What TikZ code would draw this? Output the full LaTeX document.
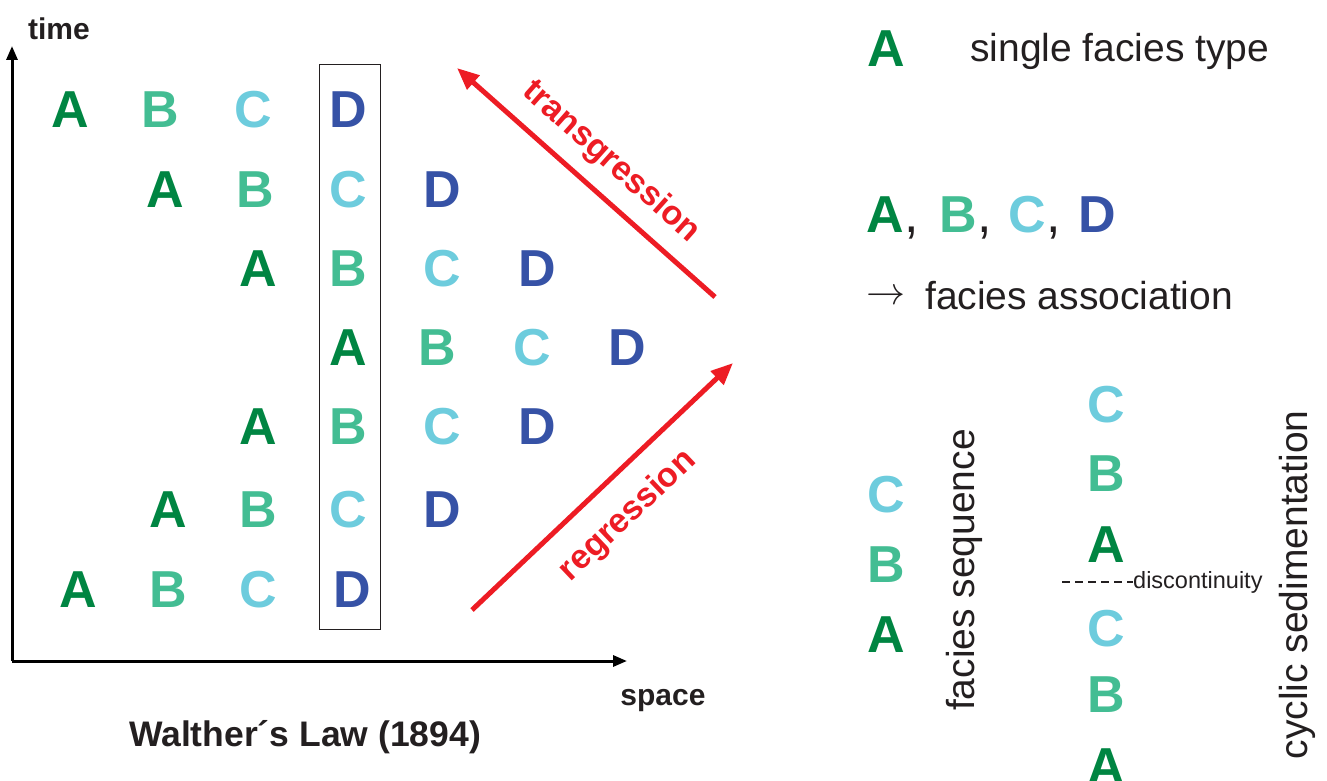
\documentclass[tikz,border=0pt]{standalone}
\usepackage{fontspec}
\setmainfont{Liberation Sans}
\usetikzlibrary{arrows.meta}
\definecolor{cA}{RGB}{0,133,66}
\definecolor{cB}{RGB}{67,189,147}
\definecolor{cC}{RGB}{109,204,221}
\definecolor{cD}{RGB}{54,82,166}
\definecolor{cR}{RGB}{237,28,36}
\definecolor{tx}{RGB}{35,31,32}
\newcommand{\lfont}{\fontsize{52}{52}\selectfont\bfseries}
\tikzset{
  lt/.style={font=\lfont, anchor=base, inner sep=0pt},
  la/.style={lt, text=cA}, lb/.style={lt, text=cB}, lc/.style={lt, text=cC}, ld/.style={lt, text=cD},
  axis/.style={line width=3pt, -{Triangle[length=14pt,width=11pt]}},
  redarrow/.style={cR, line width=5pt, -{Triangle[length=22pt,width=18pt]}},
  redlab/.style={text=cR, font=\fontsize{34}{34}\selectfont\bfseries, inner sep=0pt},
  blab/.style={text=tx, font=\fontsize{30}{30}\selectfont\bfseries, inner sep=0pt},
  legtext/.style={text=tx, font=\fontsize{39}{39}\selectfont, inner sep=0pt, anchor=base west},
  rottext/.style={text=tx, font=\fontsize{39}{39}\selectfont, rotate=90, inner sep=0pt},
  comma/.style={text=tx, font=\fontsize{52}{52}\selectfont, anchor=base, inner sep=0pt},
}
\begin{document}
\begin{tikzpicture}[x=1pt,y=-1pt]
\useasboundingbox (0,0) rectangle (1327,781);
% axes
\coordinate (o) at (12,661);
\coordinate (ty) at (12,46);
\coordinate (sx) at (627,661);
\draw[axis] (o) -- (ty);
\draw[axis] (o) -- (sx);
\node[blab] (time) at (59,29) {time};
\node[blab] (space) at (663,701) {space};
\node[blab, font=\fontsize{35.5}{35.5}\selectfont\bfseries] (title) at (305,737) {Walther´s Law (1894)};
% box
\node[draw=tx, line width=1pt, minimum width=61pt, minimum height=564pt, inner sep=0pt] (box) at (349.5,347) {};
% row 1
\node[la] (a1) at (70,128) {A};
\node[lb] (b1) at (160,128) {B};
\node[lc] (c1) at (253,128) {C};
\node[ld] (d1) at (348,128) {D};
% row 2
\node[la] (a2) at (165,207) {A};
\node[lb] (b2) at (255,207) {B};
\node[lc] (c2) at (348,207) {C};
\node[ld] (d2) at (442,207) {D};
% row 3
\node[la] (a3) at (258,286) {A};
\node[lb] (b3) at (348,286) {B};
\node[lc] (c3) at (442,286) {C};
\node[ld] (d3) at (537,286) {D};
% row 4
\node[la] (a4) at (348,365) {A};
\node[lb] (b4) at (437,365) {B};
\node[lc] (c4) at (532,365) {C};
\node[ld] (d4) at (627,365) {D};
% row 5
\node[la] (a5) at (258,444) {A};
\node[lb] (b5) at (348,444) {B};
\node[lc] (c5) at (442,444) {C};
\node[ld] (d5) at (537,444) {D};
% row 6
\node[la] (a6) at (168,527) {A};
\node[lb] (b6) at (258,527) {B};
\node[lc] (c6) at (348,527) {C};
\node[ld] (d6) at (442,527) {D};
% row 7
\node[la] (a7) at (78,607) {A};
\node[lb] (b7) at (168,607) {B};
\node[lc] (c7) at (258,607) {C};
\node[ld] (d7) at (352,607) {D};
% red arrows
\coordinate (t0) at (715,297);
\coordinate (t1) at (457,68);
\coordinate (r0) at (472,610);
\coordinate (r1) at (733,363);
\draw[redarrow] (t0) -- (t1);
\draw[redarrow] (r0) -- (r1);
\node[redlab, rotate=-41.6] (trans) at (611,162) {transgression};
\node[redlab, rotate=43.4] (regr) at (628,516) {regression};
% legend
\node[la] (lA) at (886,67) {A};
\node[legtext] (single) at (970,62) {single facies type};
\node[la] (lA2) at (885,232) {A};
\node[lb] (lB2) at (958,232) {B};
\node[lc] (lC2) at (1027,232) {C};
\node[ld] (lD2) at (1097,232) {D};
\node[comma] (k1) at (912,232) {,};
\node[comma] (k2) at (985,232) {,};
\node[comma] (k3) at (1054,232) {,};
\node[text=tx, inner sep=0pt, anchor=west] (arr) at (866,297) {\resizebox{39pt}{!}{$\rightarrow$}};
\node[legtext] (assoc) at (925,309) {facies association};
% facies sequence
\node[lc] (sC) at (886,512) {C};
\node[lb] (sB) at (886,582) {B};
\node[la] (sA) at (886,652) {A};
\node[rottext] (seq) at (964,570) {facies sequence};
% cyclic
\node[lc] (cC1) at (1106,422) {C};
\node[lb] (cB1) at (1106,491) {B};
\node[la] (cA1) at (1106,562) {A};
\node[lc] (cC2) at (1106,646) {C};
\node[lb] (cB2) at (1106,712) {B};
\node[la] (cA2) at (1106,784) {A};
\coordinate (dl) at (1062,582);
\node[text=tx, font=\fontsize{23.5}{23.5}\selectfont, inner sep=0pt, anchor=west] (disc) at (1133,582) {discontinuity};
\draw[tx, line width=1.2pt, dash pattern=on 8pt off 5pt] (dl) -- (disc.west);
\node[rottext] (cyc) at (1297,585) {cyclic sedimentation};
\end{tikzpicture}
\end{document}
